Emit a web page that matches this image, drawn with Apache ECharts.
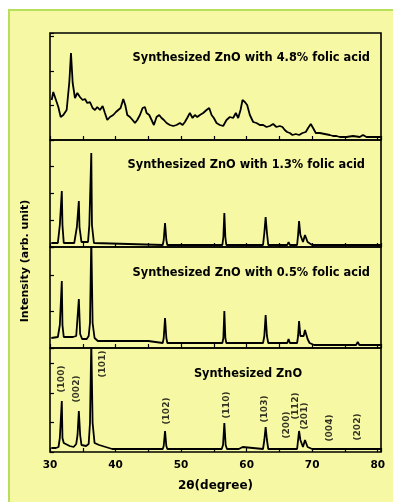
<!DOCTYPE html>
<html><head><meta charset="utf-8">
<script src="https://cdn.jsdelivr.net/npm/echarts@6/dist/echarts.min.js"></script>
<style>html,body{margin:0;padding:0;background:#fff;}#c{width:393px;height:502px;}</style>
</head><body><div id="c"></div>
<script>
// ---- data (2theta in degrees, intensity in arbitrary units) ----
const panelTitles = ['Synthesized ZnO with 4.8% folic acid','Synthesized ZnO with 1.3% folic acid','Synthesized ZnO with 0.5% folic acid','Synthesized ZnO'];
const xTickLabels = [30,40,50,60,70,80];

const folic48 = [[30.26,40],[30.5,48],[30.91,40],[31.27,33],[31.63,23],[32.03,25],[32.54,30],[32.95,58],[33.2,87],[33.46,57],[33.81,42],[34.17,47],[34.57,43],[34.98,40],[35.34,41],[35.69,37],[36.1,38],[36.5,32],[36.86,30],[37.21,33],[37.62,30],[38.03,34],[38.38,27],[38.74,20],[39.15,23],[39.65,25],[40.06,28],[40.41,30],[40.77,32],[41.18,41],[41.48,35],[41.79,25],[42.2,23],[42.6,20],[42.96,17],[43.31,20],[43.72,25],[44.13,32],[44.48,33],[44.74,27],[45.14,25],[45.5,20],[45.85,15],[46.26,23],[46.66,25],[47.02,22],[47.38,20],[47.79,17],[48.29,15],[48.8,14],[49.31,15],[49.82,17],[50.23,15],[50.58,18],[50.93,22],[51.34,27],[51.75,22],[52.1,25],[52.46,23],[52.87,25],[53.37,27],[53.88,30],[54.29,32],[54.65,25],[55.0,22],[55.41,17],[55.91,15],[56.42,14],[56.93,20],[57.44,23],[57.94,22],[58.35,27],[58.71,22],[59.07,30],[59.37,40],[59.73,38],[60.08,35],[60.49,25],[61.0,18],[61.51,17],[62.01,15],[62.52,15],[63.03,13],[63.54,14],[64.04,16],[64.55,13],[65.06,14],[65.47,13],[65.82,10],[66.18,8],[66.59,7],[66.99,5],[67.5,6],[68.01,5],[68.52,7],[69.02,8],[69.38,12],[69.79,16],[70.14,12],[70.55,7],[71.16,7],[71.92,6],[72.68,5],[73.19,4],[73.7,4],[74.21,3],[75.23,3],[76.24,4],[77.26,3],[77.76,5],[78.28,3],[79.28,3],[80.5,3]];

const folic13 = [[30.2,4],[31.2,4],[31.5,22],[31.7,22],[31.8,56],[31.9,22],[32.1,4],[33.7,4],[34.1,20],[34.3,20],[34.4,46],[34.5,20],[34.8,5],[35.8,5],[36.0,22],[36.2,22],[36.3,94],[36.4,22],[36.7,4],[37.0,2],[47.2,2],[47.35,7],[47.55,24],[47.75,7],[47.9,2],[56.3,2],[56.45,10],[56.6,34],[56.75,10],[56.9,2],[62.5,2],[62.7,14],[62.9,30],[63.1,14],[63.3,2],[66.2,2],[66.4,5],[66.6,2],[67.7,2],[67.85,12],[68.0,26],[68.2,12],[68.6,5],[68.9,12],[69.1,12],[69.3,5],[69.6,3],[70.0,2],[76.7,2],[76.95,4],[77.2,2],[80.5,2]];

const folic05 = [[30.2,10],[31.2,11],[31.5,23],[31.7,23],[31.8,67],[31.9,23],[32.1,11],[33.5,11],[34.0,12],[34.2,14],[34.4,49],[34.6,14],[34.9,9],[35.6,9],[35.9,12],[36.1,25],[36.3,110],[36.5,25],[36.8,10],[37.3,7],[45.0,7],[45.3,5],[47.2,5],[47.35,10],[47.55,30],[47.75,10],[47.9,5],[56.3,5],[56.45,10],[56.6,37],[56.75,10],[56.9,5],[62.5,5],[62.7,12],[62.9,33],[63.1,12],[63.3,5],[66.2,5],[66.4,9],[66.6,5],[67.7,5],[67.85,12],[68.0,27],[68.2,12],[68.7,12],[68.9,18],[69.1,18],[69.3,9],[69.6,5],[70.3,3],[76.7,3],[76.95,6],[77.2,3],[80.5,3]];

const pureZnO = [[30.2,4],[30.9,4],[31.3,5],[31.5,14],[31.7,14],[31.8,51],[31.9,14],[32.1,9],[32.4,7],[33.0,6],[33.6,5],[34.0,8],[34.2,17],[34.4,41],[34.6,17],[34.8,7],[35.5,6],[35.9,8],[36.1,29],[36.3,110],[36.5,29],[36.8,9],[37.5,7],[38.5,5],[39.5,3],[47.2,3],[47.35,6],[47.55,21],[47.75,6],[47.9,3],[56.2,3],[56.4,7],[56.6,29],[56.8,7],[57.0,3],[58.8,3],[59.0,5],[59.4,5],[59.6,3],[62.5,3],[62.7,12],[62.9,25],[63.1,12],[63.3,3],[66.2,3],[66.4,5],[66.6,3],[67.7,3],[67.85,12],[68.0,21],[68.2,12],[68.6,5],[68.9,12],[69.1,12],[69.3,5],[69.6,4],[70.0,3],[72.4,3],[72.6,4],[72.8,3],[76.7,3],[76.95,5],[77.2,3],[80.5,3]];

const millerNames = ['(100)','(002)','(101)','(102)','(110)','(103)','(200)','(112)','(201)','(004)','(202)'];
const millerX = [31.8,34.1,38.0,47.8,57.0,62.8,66.1,67.5,68.9,72.7,77.0];
const millerY = [73,63,88,41,47,43,27,46,36,24,25];

const panelMax = [107,107,101,104];
const panelTickStep = [34.5,27,36.5,29.5];

// ---- layout ----
const gridTops = [33,140,247,348];
const F = 'DejaVu Sans';
const chart = echarts.init(document.getElementById('c'), null, {renderer:'canvas'});
const grids = [], xAxes = [], yAxes = [], series = [];
const datasets = [folic48, folic13, folic05, pureZnO];
for (let i=0;i<4;i++){
  grids.push({left:50, width:331, top:gridTops[i], height:panelMax[i], show:true, borderColor:'#000', borderWidth:1.6, backgroundColor:'transparent'});
  xAxes.push({type:'value', gridIndex:i, min:30, max:80.5, interval:5,
    axisLine:{show:false}, splitLine:{show:false},
    axisTick:{show:true, inside:true, length:4, lineStyle:{color:'#000', width:1.2}},
    axisLabel:{show:i===3, color:'#000', fontFamily:F, fontWeight:'bold', fontSize:10.5, margin:8,
      formatter:v => xTickLabels.indexOf(v)>=0 ? String(v) : ''},
    name: i===3 ? '2θ(degree)' : '', nameLocation:'middle', nameGap:28,
    nameTextStyle:{color:'#000', fontFamily:F, fontWeight:'bold', fontSize:12}
  });
  yAxes.push({type:'value', gridIndex:i, min:0, max:panelMax[i], interval:panelTickStep[i],
    axisLine:{show:false}, splitLine:{show:false}, axisLabel:{show:false},
    axisTick:{show:true, inside:true, length:4, lineStyle:{color:'#000', width:1.2}}});
  series.push({type:'line', xAxisIndex:i, yAxisIndex:i, data:datasets[i], symbol:'none',
    lineStyle:{color:'#000', width:1.8}, clip:true, animation:false});
}
series.push({type:'scatter', xAxisIndex:3, yAxisIndex:3, symbolSize:0, animation:false,
  data: millerNames.map((n,k)=>({name:n, value:[millerX[k], millerY[k]]})),
  label:{show:true, position:'inside', rotate:90, formatter:p=>p.name, color:'#000',
    fontFamily:F, fontWeight:'bold', fontSize:9}});

const titleY = [58,165,273,374];
const titleRight = [370,365,370,null];
const gfx = [
  {type:'rect', silent:true, z:-10, shape:{x:9,y:10,width:400,height:500}, style:{fill:'#f6f8a3', stroke:'#b5df5c', lineWidth:2}},
  {type:'text', x:25, y:261, rotation:Math.PI/2, style:{text:'Intensity (arb. unit)', fill:'#000', font:'bold 11px "DejaVu Sans"', textAlign:'center', textVerticalAlign:'middle'}}
];
for (let i=0;i<4;i++){
  gfx.push({type:'text', x: i===3 ? 248 : titleRight[i], y:titleY[i],
    style:{text:panelTitles[i], fill:'#000', font:'bold 11.4px "DejaVu Sans"', textAlign: i===3?'center':'right', textVerticalAlign:'middle'}});
}
chart.setOption({animation:false, backgroundColor:'#fff', grid:grids, xAxis:xAxes, yAxis:yAxes, series:series, graphic:gfx});
</script></body></html>
